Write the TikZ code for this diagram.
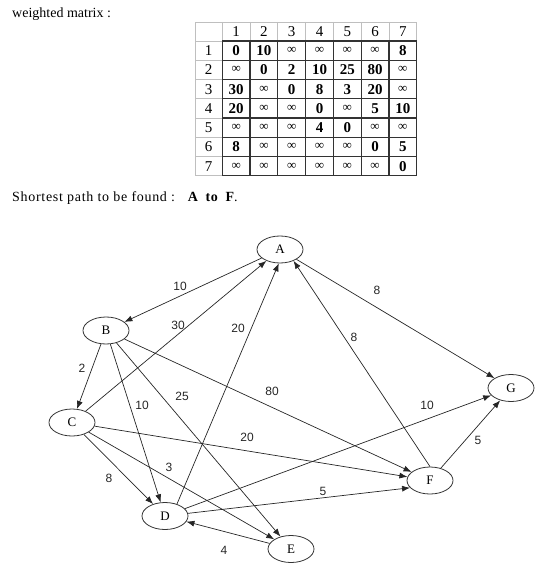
\documentclass[tikz,border=0pt]{standalone}
\usepackage{fontspec}
\setmainfont{Liberation Serif}
\newfontfamily\labelfont{Liberation Sans}
\usetikzlibrary{arrows.meta,shapes.geometric,positioning}
\tikzset{
  vertex/.style  = {draw=black!80, ellipse, line width=0.8pt, minimum width=46pt, minimum height=27pt, inner sep=0pt, font=\fontsize{13}{13}\selectfont},
  weight/.style  = {font=\labelfont\fontsize{12}{12}\selectfont, text=black!85, inner sep=0pt},
  link/.style    = {-{Latex[length=8pt,width=6pt]}, draw=black!85, line width=0.7pt},
  cell/.style    = {font=\fontsize{15}{15}\selectfont, inner sep=0pt},
  entry/.style   = {cell, font=\bfseries\fontsize{15}{15}\selectfont},
  caption/.style = {font=\fontsize{14}{14}\selectfont, inner sep=0pt, anchor=west},
  lightgrid/.style = {draw=black!25, line width=0.8pt},
  darkgrid/.style  = {draw=black!80, line width=1.3pt}
}
\newcommand\oo{{\mdseries\fontsize{13}{13}\selectfont ∞}}

\begin{document}
\begin{tikzpicture}[x=1pt, y=-1pt]
    \useasboundingbox (0,0) rectangle (550,572);

    % captions
    \node[caption] (title) at (12,14) {weighted matrix :};
    \node[caption, font=\fontsize{14}{14}\selectfont\addfontfeatures{LetterSpace=5}] (goal) at (12,198)
      {Shortest path to be found :\hspace{12pt}\textbf{A}\hspace{7pt}\textbf{to}\hspace{7pt}\textbf{F}.};

    % light lines of the header row and column
    \draw[lightgrid] (195,22) rectangle (416.7,175.75);
    \foreach \i in {0,...,6}
      \draw[lightgrid] ({222.3+\i*27.77},22) -- ({222.3+\i*27.77},41);
    \foreach \i in {0,...,6}
      \draw[lightgrid] (195,{41+\i*19.25}) -- (222.3,{41+\i*19.25});

    % dark lines of the weights
    \foreach \i in {0,...,7}
      \draw[darkgrid] ({222.3+\i*27.77},41) -- ({222.3+\i*27.77},175.75);
    \foreach \i in {0,...,7}
      \draw[darkgrid] (222.3,{41+\i*19.25}) -- (416.7,{41+\i*19.25});

    % header numbers
    \foreach \i in {1,...,7} {
      \node[cell] (h\i) at ({222.3+(\i-0.5)*27.77},31.5) {\i};
      \node[cell] (r\i) at (208.6,{41+(\i-0.5)*19.25}) {\i};
    }

    % the weights, row by row
    \foreach \vals [count=\r] in {{0,10,\oo,\oo,\oo,\oo,8},
                                  {\oo,0,2,10,25,80,\oo},
                                  {30,\oo,0,8,3,20,\oo},
                                  {20,\oo,\oo,0,\oo,5,10},
                                  {\oo,\oo,\oo,4,0,\oo,\oo},
                                  {8,\oo,\oo,\oo,\oo,0,5},
                                  {\oo,\oo,\oo,\oo,\oo,\oo,0}}
      \foreach \v [count=\c] in \vals
        \node[entry] (m\r-\c) at ({222.3+(\c-0.5)*27.77},{41+(\r-0.5)*19.25}) {\v};

    % the graph
    \node[vertex] (A) at (280,249.5) {A};
    \node[vertex] (B) at (106,330.5) {B};
    \node[vertex] (C) at (72,422.5) {C};
    \node[vertex] (D) at (165,516) {D};
    \node[vertex] (E) at (291,549) {E};
    \node[vertex] (F) at (430,480.5) {F};
    \node[vertex] (G) at (511,388) {G};

    \draw[link] (A) -- (B);
    \draw[link] (A) -- (G);
    \foreach \t in {C,D,E,F}
      \draw[link] (B) -- (\t);
    \foreach \t in {A,D,E,F}
      \draw[link] (C) -- (\t);
    \draw[link] (D.45) -- (A.265);
    \draw[link] (D) -- (F.200);
    \draw[link] (D) -- (G);
    \draw[link] (E) -- (D);
    \draw[link] (F.north) -- (A.-40);
    \draw[link] (F) -- (G);

    % weights on the edges
    \node[weight] (wAB) at (180,286) {10};
    \node[weight] (wAG) at (377,290) {8};
    \node[weight] (wBC) at (82,368) {2};
    \node[weight] (wBD) at (142,405) {10};
    \node[weight] (wBE) at (182,396) {25};
    \node[weight] (wBF) at (272,391) {80};
    \node[weight] (wCA) at (178,325) {30};
    \node[weight] (wCD) at (109,478) {8};
    \node[weight] (wCE) at (169,467) {3};
    \node[weight] (wCF) at (247,437) {20};
    \node[weight] (wDA) at (238,328) {20};
    \node[weight] (wDF) at (323,491) {5};
    \node[weight] (wDG) at (427,405) {10};
    \node[weight] (wED) at (224,550) {4};
    \node[weight] (wFA) at (354,337) {8};
    \node[weight] (wFG) at (478,440) {5};
\end{tikzpicture}
\end{document}
